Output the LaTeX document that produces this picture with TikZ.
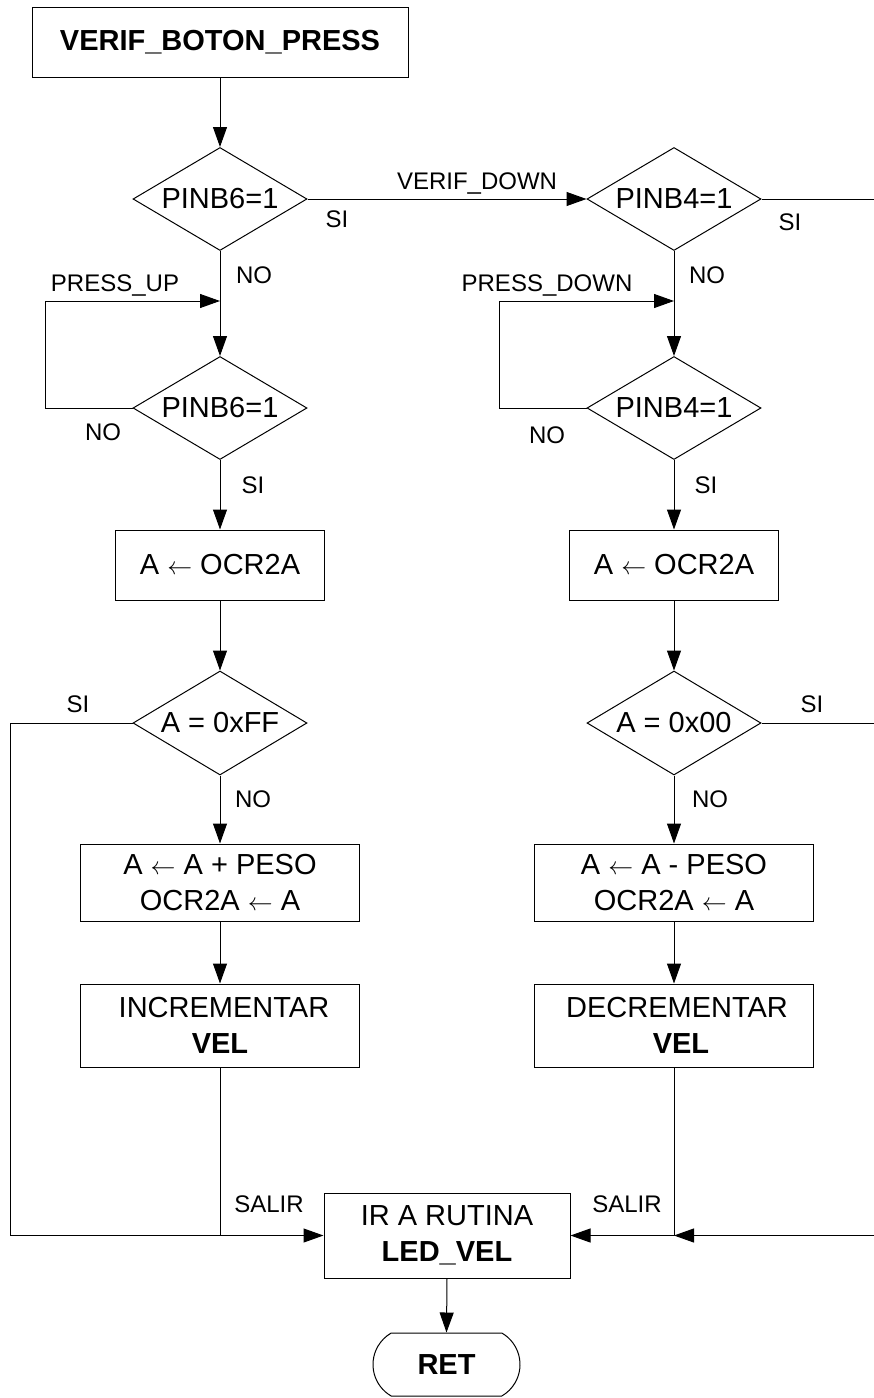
\documentclass[tikz,border=0pt]{standalone}
\usepackage{fontspec}
\setmainfont{Liberation Sans}
\usetikzlibrary{shapes.geometric,shapes.misc,arrows.meta}
\begin{document}
\begin{tikzpicture}[x=1pt,y=-1pt,
  line width=1pt,
  box/.style={draw, rectangle, inner sep=0pt, align=center, font=\fontsize{29}{36}\selectfont},
  dia/.style={draw, diamond, aspect=1.69, minimum width=174pt, minimum height=103pt, inner sep=0pt, font=\fontsize{29}{35}\selectfont},
  lbl/.style={inner sep=0pt, anchor=base, font=\fontsize{24}{28}\selectfont},
  arr/.style={-{Triangle[length=20pt,width=14pt]}},
]
\useasboundingbox (0,0) rectangle (874,1398);

% main nodes
\node[box, minimum width=376pt, minimum height=70pt, font=\bfseries\fontsize{29}{35}\selectfont] (start) at (220,42) {VERIF\_BOTON\_PRESS};
\node[dia] (d1) at (220,199) {PINB6=1};
\node[dia] (d2) at (674,199) {PINB4=1};
\node[dia] (d3) at (220,408) {PINB6=1};
\node[dia] (d4) at (674,408) {PINB4=1};
\node[box, minimum width=209pt, minimum height=70pt] (b1) at (220,565) {A $\leftarrow$ OCR2A};
\node[box, minimum width=209pt, minimum height=70pt] (b2) at (674,565) {A $\leftarrow$ OCR2A};
\node[dia, minimum height=104pt] (d5) at (220,723) {A = 0xFF};
\node[dia, minimum height=104pt] (d6) at (674,723) {A = 0x00};
\node[box, minimum width=279pt, minimum height=77pt] (b3) at (220,882.5) {A $\leftarrow$ A + PESO\\OCR2A $\leftarrow$ A};
\node[box, minimum width=279pt, minimum height=77pt] (b4) at (674,882.5) {A $\leftarrow$ A - PESO\\OCR2A $\leftarrow$ A};
\node[box, minimum width=279pt, minimum height=83pt] (b5) at (220,1025.5) {\hspace*{8pt}INCREMENTAR\\\textbf{VEL}};
\node[box, minimum width=279pt, minimum height=83pt] (b6) at (674,1025.5) {\hspace*{6pt}DECREMENTAR\\\hspace*{14pt}\textbf{VEL}};
\node[box, minimum width=246pt, minimum height=85pt] (ir) at (447,1235.5) {IR A RUTINA\\\textbf{LED\_VEL}};
\node[draw, rounded rectangle, rounded rectangle arc length=120, minimum width=147pt, minimum height=63pt, inner sep=0pt, font=\bfseries\fontsize{29}{35}\selectfont] (ret) at (446.5,1364.5) {RET};

% helper coordinates
\coordinate (j1) at (220,301);
\coordinate (j2) at (674,301);
\coordinate (lr) at (45,301);
\coordinate (rr) at (499,301);
\coordinate (lb) at (10,1235.5);
\coordinate (jr) at (674,1235.5);
\coordinate (rb) at (874,1235.5);
\coordinate (rt) at (874,199);
\coordinate (rm) at (874,723);

% connectors left column
\draw[arr] (start.south) -- (d1.north);
\draw[arr] (d1.south) -- (d3.north);
\draw[arr] (d3.west) -| (lr) -- (j1);
\draw[arr] (d3.south) -- (b1.north);
\draw[arr] (b1.south) -- (d5.north);
\draw[arr] (d5.south) -- (b3.north);
\draw[arr] (b3.south) -- (b5.north);
\draw (b5.south) -- (b5.south |- ir.west);
\draw[arr] (d5.west) -| (lb) -- (ir.west);

% connectors right column
\draw[arr] (d1.east) -- (d2.west);
\draw (d2.east) -- (rt);
\draw[arr] (d2.south) -- (d4.north);
\draw[arr] (d4.west) -| (rr) -- (j2);
\draw[arr] (d4.south) -- (b2.north);
\draw[arr] (b2.south) -- (d6.north);
\draw[arr] (d6.south) -- (b4.north);
\draw[arr] (b4.south) -- (b6.north);
\draw (d6.east) -- (rm);
\draw (b6.south) -- (jr);
\draw[arr] (rb) -- (jr);
\draw[arr] (jr) -- (ir.east);
\draw[arr] (ir.south) -- (ret.north);

% labels
\node[lbl] (si1) at (337,227) {SI};
\node[lbl] (vd) at (477,189) {VERIF\_DOWN};
\node[lbl] (si2) at (790,230) {SI};
\node[lbl] (no1) at (254,283) {NO};
\node[lbl] (pu) at (115,291) {PRESS\_UP};
\node[lbl] (no2) at (707,283) {NO};
\node[lbl] (pd) at (547,291) {PRESS\_DOWN};
\node[lbl] (no3) at (103,440) {NO};
\node[lbl] (no4) at (547,443) {NO};
\node[lbl] (si3) at (253,493) {SI};
\node[lbl] (si4) at (706,493) {SI};
\node[lbl] (si5) at (78,712) {SI};
\node[lbl] (si6) at (812,712) {SI};
\node[lbl] (no5) at (253,807) {NO};
\node[lbl] (no6) at (710,807) {NO};
\node[lbl] (sa1) at (269,1212) {SALIR};
\node[lbl] (sa2) at (627,1212) {SALIR};
\end{tikzpicture}
\end{document}
